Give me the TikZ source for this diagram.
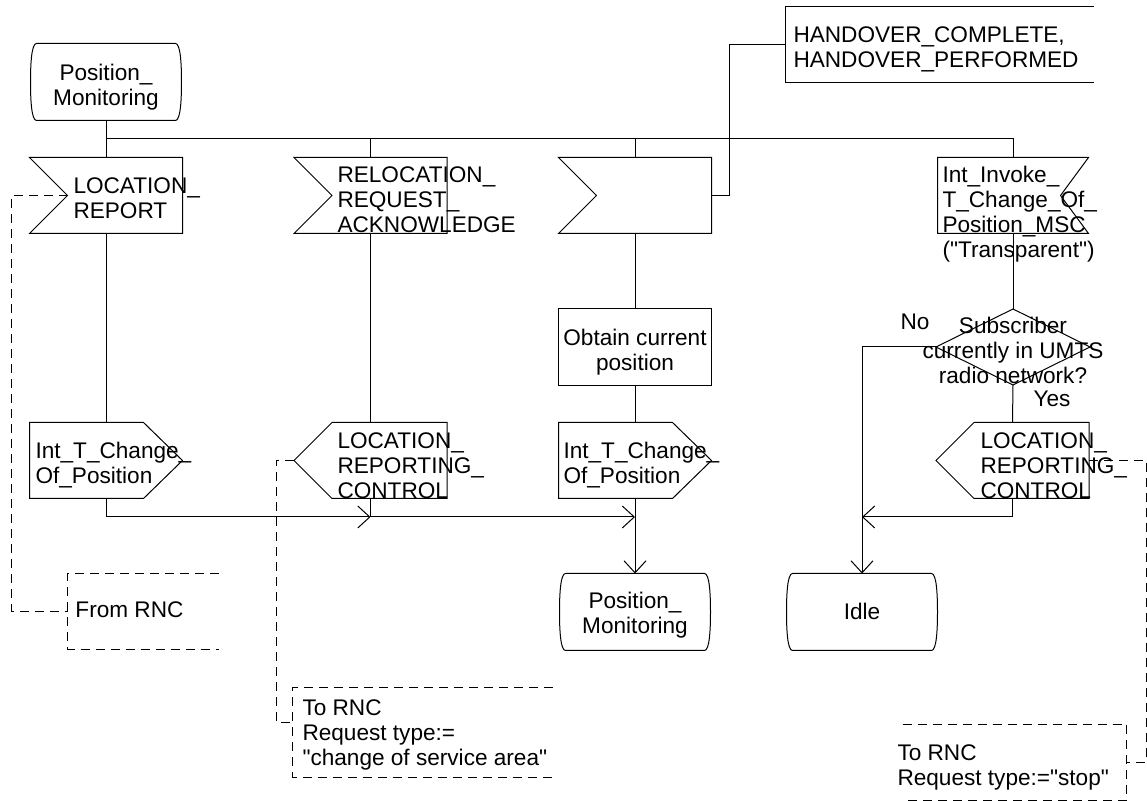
\documentclass[tikz,border=0pt]{standalone}
\usepackage{fontspec}
\setmainfont{Liberation Sans}[Ligatures=TeXOff]
\usetikzlibrary{arrows.meta,calc}
\newcommand\sdlstate[1]{\draw ([xshift=3pt]#1.north west) -- ([xshift=-3pt]#1.north east)
  .. controls ([xshift=-0.5pt]#1.north east) and ([yshift=9pt]#1.east) .. (#1.east)
  .. controls ([yshift=-9pt]#1.east) and ([xshift=-0.5pt]#1.south east) .. ([xshift=-3pt]#1.south east)
  -- ([xshift=3pt]#1.south west)
  .. controls ([xshift=0.5pt]#1.south west) and ([yshift=-9pt]#1.west) .. (#1.west)
  .. controls ([yshift=9pt]#1.west) and ([xshift=0.5pt]#1.north west) .. cycle;}
\newcommand\sdlin[1]{\draw (#1.north west) -- (#1.north east) -- (#1.south east) -- (#1.south west) -- ([xshift=19pt]#1.west) -- cycle;}
\newcommand\sdloutR[1]{\draw (#1.north west) -- ([xshift=-19.5pt]#1.north east) -- (#1.east) -- ([xshift=-19.5pt]#1.south east) -- (#1.south west) -- cycle;}
\newcommand\sdloutL[1]{\draw (#1.north east) -- ([xshift=19pt]#1.north west) -- (#1.west) -- ([xshift=19pt]#1.south west) -- (#1.south east) -- cycle;}
\begin{document}
\begin{tikzpicture}[x=0.5pt,y=-0.5pt,line width=0.5pt,
  sym/.style={draw=none,inner sep=0,minimum width=76pt,minimum height=37.5pt},
  txt/.style={inner sep=0,font=\fontsize{11.3}{12.5}\selectfont,align=left},
  ctxt/.style={txt,align=center},
  arr/.style={-{Straight Barb[length=6pt,width=11pt]}},
  cmt/.style={dash pattern=on 4.5pt off 3pt}]
\useasboundingbox (0,0) rectangle (1147,801);
% symbols
\node[sym,minimum width=75pt,minimum height=38pt] (start) at (106,82) {};
\node[ctxt,anchor=north] at (106,64) {Position\_\\Monitoring};
\node[sym] (LR) at (106,195.5) {};
\node[txt,anchor=north west] at (73,177) {LOCATION\_\\REPORT};
\node[sym] (RRA) at (370.5,195.5) {};
\node[txt,anchor=north west] at (337,166) {RELOCATION\_\\REQUEST\_\\ACKNOWLEDGE};
\node[sym] (in3) at (635,195.5) {};
\node[sym,minimum width=75pt] (inv) at (1013,195.5) {};
\node[txt,anchor=north west] at (942,166) {Int\_Invoke\_\\T\_Change\_Of\_\\Position\_MSC\\("Transparent")};
\node[sym,minimum width=153.5pt] (ho) at (939.5,44.5) {};
\node[txt,anchor=north west] at (793,26) {HANDOVER\_COMPLETE,\\HANDOVER\_PERFORMED};
\node[sym,minimum height=38pt] (obt) at (635,347) {};
\node[ctxt,anchor=north] at (635,329) {Obtain current\\position};
\node[sym,minimum width=76.5pt] (dec) at (1013,347) {};
\node[ctxt,anchor=north] at (1013,317) {Subscriber\\currently in UMTS\\radio network?};
\node[txt,anchor=base west] at (900,330) {No};
\node[txt,anchor=base west] at (1033,407) {Yes};
\node[sym] (outL) at (106,460.5) {};
\node[txt,anchor=north west] at (35,442) {Int\_T\_Change\_\\Of\_Position};
\node[sym] (lrcm) at (370.5,460.5) {};
\node[txt,anchor=north west] at (337,432) {LOCATION\_\\REPORTING\_\\CONTROL};
\node[sym] (outM) at (635,460.5) {};
\node[txt,anchor=north west] at (563,442) {Int\_T\_Change\_\\Of\_Position};
\node[sym] (lrcr) at (1012.5,460.5) {};
\node[txt,anchor=north west] at (980,432) {LOCATION\_\\REPORTING\_\\CONTROL};
\node[sym,minimum width=75pt,minimum height=38pt] (endpm) at (635,612) {};
\node[ctxt,anchor=north] at (635,592) {Position\_\\Monitoring};
\node[sym,minimum width=75pt,minimum height=38pt] (idle) at (862,612) {};
\node[txt,anchor=base] at (862,620) {Idle};
\node[sym,minimum width=75pt] (frm) at (143,611.5) {};
\node[txt,anchor=base west] at (75,618) {From RNC};
\node[sym,minimum width=129.5pt,minimum height=44.5pt] (to1) at (422.5,732.5) {};
\node[txt,anchor=north west] at (302,699) {To RNC\\Request type:=\\"change of service area"};
\node[sym,minimum width=111.5pt] (to2) at (1014.5,762.5) {};
\node[txt,anchor=north west] at (897,744) {To RNC\\Request type:="stop"};
% outlines
\sdlstate{start}
\sdlstate{endpm}
\sdlstate{idle}
\sdlin{LR}
\sdlin{RRA}
\sdlin{in3}
\draw (inv.north east) -- (inv.north west) -- (inv.south west) -- (inv.south east) -- ([xshift=-14pt]inv.east) -- cycle;
\draw (ho.north east) -- (ho.north west) -- (ho.south west) -- (ho.south east);
\draw (obt.north west) rectangle (obt.south east);
\draw (dec.north) -- (dec.east) -- (dec.south) -- (dec.west) -- cycle;
\sdloutR{outL}
\sdloutR{outM}
\sdloutL{lrcm}
\sdloutL{lrcr}
\draw[cmt] (frm.north east) -- (frm.north west) -- (frm.south west) -- (frm.south east);
\draw[cmt] (to1.north east) -- (to1.north west) -- (to1.south west) -- (to1.south east);
\draw[cmt] (to2.north west) -- (to2.north east) -- (to2.south east) -- (to2.south west);
% connectors
\coordinate (bus) at (106,139);
\coordinate (j2) at (370.5,517);
\coordinate (j4) at (862,517);
\draw (start.south) -- (LR.north);
\draw (bus) -| (inv.north);
\draw (bus -| RRA.north) -- (RRA.north);
\draw (bus -| in3.north) -- (in3.north);
\draw (in3.east) -- ++(18,0) |- (ho.west);
\draw (LR.south) -- (outL.north);
\draw (RRA.south) -- (lrcm.north);
\draw (in3.south) -- (obt.north);
\draw (obt.south) -- (outM.north);
\draw (inv.south) -- (dec.north);
\draw (dec.south) -- (lrcr.north);
\draw[arr] (outL.south) |- (j2);
\draw (lrcm.south) -- (j2);
\draw[arr] (j2) -- (j2 -| outM.south);
\draw[arr] (outM.south) -- (endpm.north);
\draw[arr] (dec.west) -| (idle.north);
\draw[arr] (lrcr.south) |- (j4);
\draw[cmt] ([xshift=19pt]LR.west) -- ++(-56,0) |- (frm.west);
\draw[cmt] (lrcm.west) -- ++(-18,0) |- ([yshift=5pt]to1.west);
\draw[cmt] (lrcr.east) -- ++(57,0) |- (to2.east);
\end{tikzpicture}
\end{document}
